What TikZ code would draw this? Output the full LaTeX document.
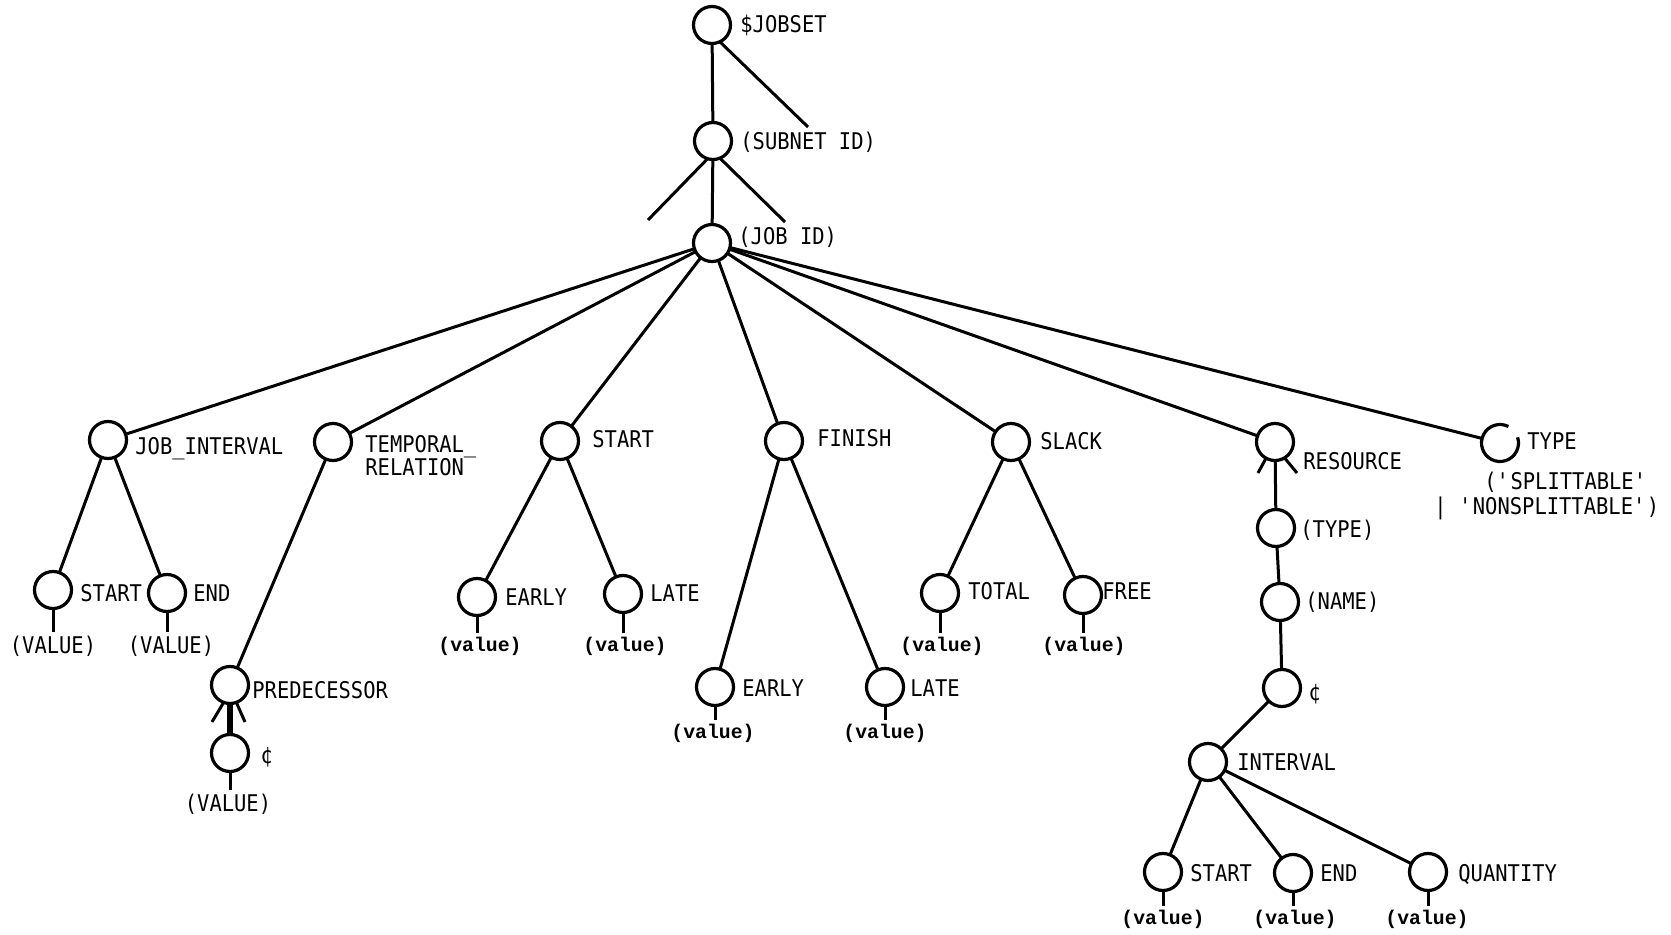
\documentclass[tikz,border=0pt]{standalone}
\usepackage{fontspec}
\newfontfamily\lblfont[FakeStretch=0.89]{DejaVu Sans Mono}
\newfontfamily\valfont{Liberation Mono}
\begin{document}
\begin{tikzpicture}[x=0.5pt,y=-0.5pt,
  nd/.style={circle, draw, line width=1.6pt, minimum size=18.5pt, inner sep=0pt, outer sep=0pt},
  ndopen/.style={circle, draw=none, minimum size=18.5pt, inner sep=0pt, outer sep=0pt},
  lbl/.style={anchor=base west, inner sep=0pt, font=\lblfont\fontsize{11.5}{13.5}\selectfont},
  Vlbl/.style={anchor=base, inner sep=1.5pt, font=\lblfont\fontsize{11.5}{13.5}\selectfont},
  vlbl/.style={anchor=base, inner sep=1.5pt, font=\valfont\bfseries\fontsize{9.9}{11}\selectfont},
  edge/.style={line width=1.5pt},
  thickedge/.style={line width=2.6pt}]
\useasboundingbox (0,0) rectangle (1671,935);

% circles
\node[nd] (jobset) at (712,25) {};
\node[nd] (subnet) at (713,141) {};
\node[nd] (jobid) at (712,243) {};
\node[nd] (ji) at (108,440) {};
\node[nd] (tr) at (333,442) {};
\node[nd] (st) at (560,441) {};
\node[nd] (fi) at (784,441) {};
\node[nd] (sl) at (1011,442) {};
\node[nd] (res) at (1275,442) {};
\node[ndopen] (typ) at (1500,443) {};
\node[nd] (jis) at (53,590) {};
\node[nd] (jie) at (167,593) {};
\node[nd] (pred) at (230,685) {};
\node[nd] (predc) at (230,753) {};
\node[nd] (ste) at (477,597) {};
\node[nd] (stl) at (623,594) {};
\node[nd] (fie) at (715,687) {};
\node[nd] (fil) at (885,687) {};
\node[nd] (slt) at (940,593) {};
\node[nd] (slf) at (1083,595) {};
\node[nd] (rtype) at (1276,528) {};
\node[nd] (rname) at (1280,602) {};
\node[nd] (rc) at (1282,688) {};
\node[nd] (iv) at (1208,762) {};
\node[nd] (ivs) at (1163,872) {};
\node[nd] (ive) at (1293,873) {};
\node[nd] (ivq) at (1428,872) {};

% open circle for TYPE
\draw[line width=1.6pt] (typ.63) arc[start angle=63, end angle=378, radius=9.25pt];

% labels
\node[lbl] (l-jobset) at (740,33) {\$JOBSET};
\node[lbl] (l-subnet) at (740,150) {(SUBNET ID)};
\node[lbl] (l-jobid) at (738,245) {(JOB ID)};
\node[lbl] (l-ji) at (135,455) {JOB\_INTERVAL};
\node[lbl] (l-tr1) at (365,453) {TEMPORAL\_};
\node[lbl] (l-tr2) at (365,476) {RELATION};
\node[lbl] (l-st) at (592,448) {START};
\node[lbl] (l-fi) at (817,447) {FINISH};
\node[lbl] (l-sl) at (1040,450) {SLACK};
\node[lbl] (l-res) at (1303,470) {RESOURCE};
\node[lbl] (l-typ) at (1527,450) {TYPE};
\node[lbl] (l-typ2) at (1484,490) {(\textquotesingle SPLITTABLE\textquotesingle};
\node[lbl] (l-typ3) at (1434,515) {|\ \textquotesingle NONSPLITTABLE\textquotesingle)};
\node[lbl] (l-jis) at (80,601) {START};
\node[lbl] (l-jie) at (193,601) {END};
\node[lbl] (l-pred) at (252,698) {PREDECESSOR};
\node[lbl] (l-predc) at (260,763) {¢};
\node[lbl] (l-ste) at (505,605) {EARLY};
\node[lbl] (l-stl) at (650,601) {LATE};
\node[lbl] (l-fie) at (742,696) {EARLY};
\node[lbl] (l-fil) at (910,696) {LATE};
\node[lbl] (l-slt) at (968,599) {TOTAL};
\node[lbl] (l-slf) at (1102,599) {FREE};
\node[lbl] (l-rtype) at (1300,538) {(TYPE)};
\node[lbl] (l-rname) at (1305,610) {(NAME)};
\node[lbl] (l-rc) at (1308,700) {¢};
\node[lbl] (l-iv) at (1237,770) {INTERVAL};
\node[lbl] (l-ivs) at (1190,881) {START};
\node[lbl] (l-ive) at (1320,881) {END};
\node[lbl] (l-ivq) at (1458,881) {QUANTITY};

% value labels
\node[Vlbl] (v-jis) at (53,653) {(VALUE)};
\node[Vlbl] (v-jie) at (171,653) {(VALUE)};
\node[Vlbl] (v-predc) at (228,811) {(VALUE)};
\node[vlbl] (v-ste) at (480,651) {(value)};
\node[vlbl] (v-stl) at (625,651) {(value)};
\node[vlbl] (v-fie) at (713,738) {(value)};
\node[vlbl] (v-fil) at (885,738) {(value)};
\node[vlbl] (v-slt) at (942,651) {(value)};
\node[vlbl] (v-slf) at (1084,651) {(value)};
\node[vlbl] (v-ivs) at (1163,924) {(value)};
\node[vlbl] (v-ive) at (1295,924) {(value)};
\node[vlbl] (v-ivq) at (1427,924) {(value)};

% stub ends
\coordinate (js-stub) at (808,127);
\coordinate (sn-stubl) at (648,220);
\coordinate (sn-stubr) at (785,222);
\coordinate (pr-stubl) at (212,722);
\coordinate (pr-stubr) at (245,722);
\coordinate (rs-stubl) at (1258,473);
\coordinate (rs-stubr) at (1297,473);

% edges
\draw[edge] (jobset) -- (subnet);
\draw[edge] (jobset.-65) -- (js-stub);
\draw[edge] (subnet) -- (jobid);
\draw[edge] (subnet.-107) -- (sn-stubl);
\draw[edge] (subnet.-68) -- (sn-stubr);
\foreach \c in {ji,tr,st,fi,sl,res,typ} \draw[edge] (jobid) -- (\c);
\draw[edge] (ji) -- (jis);
\draw[edge] (ji) -- (jie);
\draw[edge] (tr) -- (pred);
\draw[thickedge] (pred) -- (predc);
\draw[edge] (pred.-110) -- (pr-stubl);
\draw[edge] (pred.-70) -- (pr-stubr);
\draw[edge] (st) -- (ste);
\draw[edge] (st) -- (stl);
\draw[edge] (fi) -- (fie);
\draw[edge] (fi) -- (fil);
\draw[edge] (sl) -- (slt);
\draw[edge] (sl) -- (slf);
\draw[edge] (res) -- (rtype);
\draw[edge] (res.-119) -- (rs-stubl);
\draw[edge] (res.-59) -- (rs-stubr);
\draw[edge] (rtype) -- (rname);
\draw[edge] (rname) -- (rc);
\draw[edge] (rc) -- (iv);
\draw[edge] (iv) -- (ivs);
\draw[edge] (iv) -- (ive);
\draw[edge] (iv) -- (ivq);

% value stubs
\foreach \n in {jis,jie,predc,ste,stl,fie,fil,slt,slf,ivs,ive,ivq}
  \draw[edge] (\n.south) -- (\n.south |- v-\n.north);
\end{tikzpicture}
\end{document}
